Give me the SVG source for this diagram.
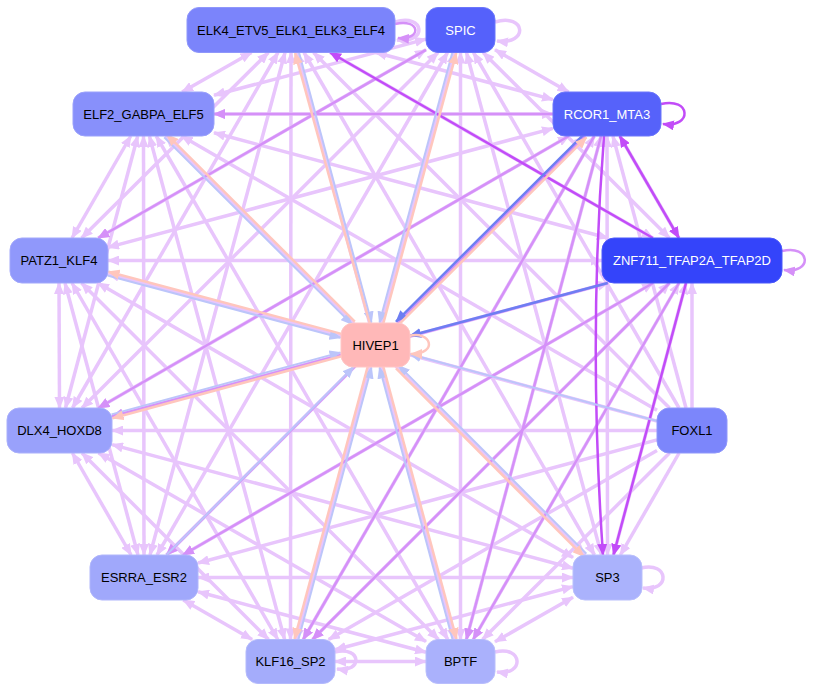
<svg xmlns="http://www.w3.org/2000/svg" width="814" height="692" viewBox="0 0 814 692">
<style>
.l{stroke:#e8c5fc;stroke-width:3.5;fill:none;marker-start:url(#aL);marker-end:url(#aL)}
.lh{stroke:#e8c5fc;stroke-width:3.5;fill:none;marker-end:url(#aL)}
.m{stroke:#d590f8;stroke-width:2.5;fill:none;marker-end:url(#aM)}
.s{stroke:#c24cf8;stroke-width:2.5;fill:none;marker-end:url(#aS)}
.sb{stroke:#c24cf8;stroke-width:2.5;fill:none;marker-start:url(#aS);marker-end:url(#aS)}
.b{stroke:#bcc5fa;stroke-width:2;fill:none;marker-end:url(#aB)}
.d{stroke:#6e7ef2;stroke-width:2.5;fill:none;marker-end:url(#aD)}
.p{stroke:#ffc6bd;stroke-width:2.5;fill:none;marker-end:url(#aP)}
.n rect{rx:12;ry:12;stroke-width:1}
.n text{font-family:"Liberation Sans",Arial,sans-serif;font-size:13px;text-anchor:middle}
.w text{fill:#ffffff}
.k text{fill:#000000}
</style>
<defs>
<marker id="aL" viewBox="0 0 12 10" refX="11" refY="5" markerWidth="12" markerHeight="10" markerUnits="userSpaceOnUse" orient="auto-start-reverse"><path d="M0,0 L12,5 L0,10 z" fill="#e8c5fc"/></marker>
<marker id="aM" viewBox="0 0 12 10" refX="11" refY="5" markerWidth="12" markerHeight="10" markerUnits="userSpaceOnUse" orient="auto-start-reverse"><path d="M0,0 L12,5 L0,10 z" fill="#d590f8"/></marker>
<marker id="aS" viewBox="0 0 12 10" refX="11" refY="5" markerWidth="12" markerHeight="10" markerUnits="userSpaceOnUse" orient="auto-start-reverse"><path d="M0,0 L12,5 L0,10 z" fill="#c24cf8"/></marker>
<marker id="aB" viewBox="0 0 12 10" refX="11" refY="5" markerWidth="12" markerHeight="10" markerUnits="userSpaceOnUse" orient="auto-start-reverse"><path d="M0,0 L12,5 L0,10 z" fill="#bcc5fa"/></marker>
<marker id="aD" viewBox="0 0 12 10" refX="11" refY="5" markerWidth="12" markerHeight="10" markerUnits="userSpaceOnUse" orient="auto-start-reverse"><path d="M0,0 L12,5 L0,10 z" fill="#6e7ef2"/></marker>
<marker id="aP" viewBox="0 0 12 10" refX="11" refY="5" markerWidth="12" markerHeight="10" markerUnits="userSpaceOnUse" orient="auto-start-reverse"><path d="M0,0 L12,5 L0,10 z" fill="#ffc6bd"/></marker>
</defs>
<rect width="814" height="692" fill="#ffffff"/>
<g id="edges">
<path class="l" d="M251.5,52.5 L182.1,92"/>
<path class="l" d="M375.7,52.5 L553,99.6"/>
<path class="l" d="M268.4,52.5 L81.6,238"/>
<path class="l" d="M330.1,52.5 L652.9,238"/>
<path class="l" d="M278,52.5 L72.5,408"/>
<path class="l" d="M285,52.5 L150,555"/>
<path class="l" d="M304,52.5 L594.5,555"/>
<path class="l" d="M291,52.5 L290.5,639.5"/>
<path class="l" d="M297,52.5 L454.6,639.5"/>
<path class="l" d="M426,39.1 L214,95.3"/>
<path class="l" d="M495,49.8 L568.6,92"/>
<path class="l" d="M426,49.8 L98.2,238"/>
<path class="l" d="M483.1,52.5 L669.4,238"/>
<path class="l" d="M438,52.5 L82,408"/>
<path class="l" d="M447.5,52.5 L157,555"/>
<path class="l" d="M466.5,52.5 L601.5,555"/>
<path class="l" d="M454.4,52.5 L296.4,639.5"/>
<path class="l" d="M460.5,52.5 L460.5,639.5"/>
<path class="l" d="M214,114 L553,114"/>
<path class="l" d="M130.8,136 L72,238"/>
<path class="l" d="M214,132.8 L607.8,238"/>
<path class="l" d="M137.7,136 L65.5,408"/>
<path class="l" d="M143.5,136 L144,555"/>
<path class="l" d="M165.5,136 L585,555"/>
<path class="l" d="M149.4,136 L284.6,639.5"/>
<path class="l" d="M156.2,136 L447.8,639.5"/>
<path class="l" d="M553,128.4 L108,247.4"/>
<path class="l" d="M619.8,136 L678.9,238"/>
<path class="l" d="M568.9,136 L98.4,408"/>
<path class="l" d="M585,136 L166.5,555"/>
<path class="l" d="M607,136 L607.5,555"/>
<path class="l" d="M594.3,136 L303.2,639.5"/>
<path class="l" d="M601.1,136 L466.4,639.5"/>
<path class="l" d="M108,260.5 L602,260.5"/>
<path class="l" d="M59,283 L59.5,408"/>
<path class="l" d="M65,283 L138,555"/>
<path class="l" d="M97.9,283 L573,557.6"/>
<path class="l" d="M72,283 L277.8,639.5"/>
<path class="l" d="M81.5,283 L438.5,639.5"/>
<path class="l" d="M608.3,283 L112,416.4"/>
<path class="l" d="M653.1,283 L182.9,555"/>
<path class="l" d="M686,283 L613.5,555"/>
<path class="l" d="M669.5,283 L312.5,639.5"/>
<path class="l" d="M679,283 L473.2,639.5"/>
<path class="l" d="M72.4,453 L131.1,555"/>
<path class="l" d="M112,444.6 L573,568.2"/>
<path class="l" d="M82,453 L268.5,639.5"/>
<path class="l" d="M98.5,453 L426,641.6"/>
<path class="l" d="M198,577.5 L573,577.5"/>
<path class="l" d="M183.3,600 L252.1,639.5"/>
<path class="l" d="M198,591.8 L426,652.3"/>
<path class="l" d="M573,586.6 L335,649.7"/>
<path class="l" d="M573,597.2 L495,641.8"/>
<path class="l" d="M335,661.5 L426,661.5"/>
<path class="lh" d="M669.5,408 L313.5,52.5"/>
<path class="lh" d="M679,408 L473.5,52.5"/>
<path class="lh" d="M657,410.3 L181.6,136"/>
<path class="lh" d="M686,408 L612.9,136"/>
<path class="lh" d="M657,421.1 L108,273.7"/>
<path class="lh" d="M692,408 L692,283"/>
<path class="lh" d="M657,430.5 L112,430.5"/>
<path class="lh" d="M657,439.9 L198,563"/>
<path class="lh" d="M679.1,453 L620.4,555"/>
<path class="lh" d="M657,450.6 L328.7,639.5"/>
<path class="lh" d="M669.5,453 L482.5,639.5"/>
<path class="lh" d="M395,22 C425,13 428,44 397,40"/>
<path class="lh" d="M495,22 C526,13 529,45 497,41"/>
<path class="lh" d="M641,568 C669,561 671,592 643,588"/>
<path class="lh" d="M495,652 C523,645 525,676 497,672"/>
<path class="lh" d="M335,652 C362,646 363,673 337,669"/>
<path class="m" d="M553,114 L214,114"/>
<path class="m" d="M568.9,136 L98.4,408"/>
<path class="m" d="M594.3,136 L303.2,639.5"/>
<path class="m" d="M601.1,136 L466.4,639.5"/>
<path class="m" d="M585,136 L166.5,555"/>
<path class="m" d="M608.3,283 L112,416.4"/>
<path class="m" d="M669.5,283 L312.5,639.5"/>
<path class="m" d="M679,283 L473.2,639.5"/>
<path class="m" d="M653.1,283 L182.9,555"/>
<path class="m" d="M426,49.8 L98.2,238"/>
<path class="m" d="M782,251 C811,244 813,274 784,270"/>
<path class="m" d="M395,24 C420,18 423,40 398,38"/>
<path class="sb" d="M619.8,136 L678.9,238"/>
<path class="s" d="M652.9,238 L330.1,52.5"/>
<path class="s" d="M604,136 Q588,340 603,555"/>
<path class="s" d="M686,283 L613.5,555"/>
<path class="s" d="M661,104 C691,97 693,128 663,124"/>
<path class="b" d="M298.9,52 L371.5,322.5"/>
<path class="b" d="M452.5,52 L379.5,322.5"/>
<path class="b" d="M164.2,137.4 L352,324.4"/>
<path class="b" d="M107.5,275.5 L340.5,337.7"/>
<path class="b" d="M111.5,414.4 L340.5,352.4"/>
<path class="b" d="M586.4,553.6 L398.8,365.6"/>
<path class="b" d="M298.3,640 L371.5,367.5"/>
<path class="b" d="M452.7,640 L379.5,367.5"/>
<path class="b" d="M657,421 L410,354.3"/>
<path class="b" d="M166.4,555 L353.6,367"/>
<path class="d" d="M583.6,134.6 L396.1,321.6"/>
<path class="d" d="M607.7,283 L410,335.8"/>
<path class="p" d="M369.7,323.5 L295.1,53"/>
<path class="p" d="M383.3,323.5 L456.3,53"/>
<path class="p" d="M354.8,321.6 L167,134.6"/>
<path class="p" d="M398.9,324.4 L586.4,137.4"/>
<path class="p" d="M341.5,333.9 L108.5,271.7"/>
<path class="p" d="M341.5,356.2 L112.5,418.2"/>
<path class="p" d="M396,368.4 L583.6,556.4"/>
<path class="p" d="M367.7,366.5 L294.5,639"/>
<path class="p" d="M383.3,366.5 L456.5,639"/>
<path class="p" d="M409,336 C431,330 439,354 411,354"/>
</g>
<g id="node-ELK4" class="n k"><rect x="187" y="7.5" width="208" height="45" fill="#7b84fb" stroke="#8f97fb"/><text x="291" y="34.5">ELK4_ETV5_ELK1_ELK3_ELF4</text></g>
<g id="node-SPIC" class="n w"><rect x="426" y="7.5" width="69" height="45" fill="#5561fb" stroke="#6b76fb"/><text x="460.5" y="34.5">SPIC</text></g>
<g id="node-ELF2" class="n k"><rect x="73" y="92" width="141" height="44" fill="#8890fb" stroke="#9aa1fb"/><text x="143.5" y="118.5">ELF2_GABPA_ELF5</text></g>
<g id="node-RCOR1" class="n w"><rect x="553" y="92" width="108" height="44" fill="#5662fa" stroke="#6c77fb"/><text x="607" y="118.5">RCOR1_MTA3</text></g>
<g id="node-PATZ1" class="n k"><rect x="10" y="238" width="98" height="45" fill="#9098fb" stroke="#a2a8fb"/><text x="59" y="265">PATZ1_KLF4</text></g>
<g id="node-ZNF711" class="n w"><rect x="602" y="238" width="180" height="45" fill="#3444fa" stroke="#4b59fa"/><text x="692" y="265">ZNF711_TFAP2A_TFAP2D</text></g>
<g id="node-HIVEP1" class="n k"><rect x="341" y="323" width="69" height="44" fill="#ffb8b8" stroke="#ffc6c6"/><text x="375.5" y="349.5">HIVEP1</text></g>
<g id="node-DLX4" class="n k"><rect x="7" y="408" width="105" height="45" fill="#99a1fb" stroke="#aab0fb"/><text x="59.5" y="435">DLX4_HOXD8</text></g>
<g id="node-FOXL1" class="n k"><rect x="657" y="408" width="70" height="45" fill="#7c86fb" stroke="#9098fb"/><text x="692" y="435">FOXL1</text></g>
<g id="node-ESRRA" class="n k"><rect x="90" y="555" width="108" height="45" fill="#a0a8fb" stroke="#b0b6fb"/><text x="144" y="582">ESRRA_ESR2</text></g>
<g id="node-SP3" class="n k"><rect x="573" y="555" width="69" height="45" fill="#aab2fc" stroke="#b9bffc"/><text x="607.5" y="582">SP3</text></g>
<g id="node-KLF16" class="n k"><rect x="246" y="639.5" width="89" height="44" fill="#a4acfb" stroke="#b4bafc"/><text x="290.5" y="666">KLF16_SP2</text></g>
<g id="node-BPTF" class="n k"><rect x="426" y="639.5" width="69" height="44" fill="#aab1fc" stroke="#b9befc"/><text x="460.5" y="666">BPTF</text></g>
</svg>
